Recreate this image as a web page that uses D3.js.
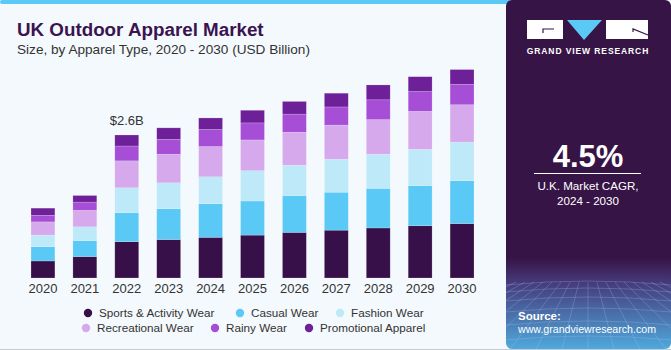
<!DOCTYPE html>
<html>
<head>
<meta charset="utf-8">
<script src="https://cdn.jsdelivr.net/npm/d3@7/dist/d3.min.js"></script>
<style>
  html, body { margin: 0; padding: 0; background: #f4f9fd; }
  svg { display: block; font-family: "Liberation Sans", Arial, sans-serif; }
</style>
</head>
<body>
<svg id="chart" width="671" height="350"></svg>
<script>
// data (USD billion)
const years = ["2020", "2021", "2022", "2023", "2024", "2025", "2026", "2027", "2028", "2029", "2030"];
const seriesNames = ["Sports & Activity Wear", "Casual Wear", "Fashion Wear", "Recreational Wear", "Rainy Wear", "Promotional Apparel"];
const sports       = [0.31, 0.39, 0.66, 0.70, 0.74, 0.78, 0.83, 0.87, 0.91, 0.95, 0.99];
const casual       = [0.26, 0.29, 0.53, 0.56, 0.61, 0.62, 0.67, 0.69, 0.72, 0.73, 0.78];
const fashion      = [0.21, 0.25, 0.45, 0.47, 0.49, 0.55, 0.55, 0.60, 0.62, 0.66, 0.70];
const recreational = [0.24, 0.30, 0.49, 0.52, 0.55, 0.56, 0.60, 0.62, 0.63, 0.69, 0.68];
const rainy        = [0.12, 0.15, 0.27, 0.27, 0.31, 0.31, 0.33, 0.33, 0.36, 0.36, 0.37];
const promotional  = [0.13, 0.12, 0.20, 0.21, 0.21, 0.23, 0.23, 0.25, 0.27, 0.27, 0.27];
const colors = ["#37104a", "#5bc9f6", "#bde9f9", "#d6a9ec", "#a64fd6", "#6d2097"];
const callout = { year: "2022", label: "$2.6B" };

const allSeries = [sports, casual, fashion, recreational, rainy, promotional];
const table = years.map((y, i) => {
  const row = { year: y };
  seriesNames.forEach((s, j) => row[s] = allSeries[j][i]);
  return row;
});
const stacked = d3.stack().keys(seriesNames)(table);

const svg = d3.select("#chart");

// top strip + bottom line
svg.append("rect").attr("x", 0).attr("y", 0).attr("width", 520).attr("height", 4)
  .attr("rx", 2).attr("fill", "#5bc9f6");
svg.append("line").attr("x1", 0).attr("x2", 671).attr("y1", 349.5).attr("y2", 349.5)
  .attr("stroke", "#c8cbd0");

// title
svg.append("text").attr("x", 17).attr("y", 36)
  .attr("font-size", 18.8).attr("font-weight", "bold").attr("fill", "#3a1450")
  .text("UK Outdoor Apparel Market");
svg.append("text").attr("x", 17).attr("y", 54)
  .attr("font-size", 13.6).attr("fill", "#333")
  .text("Size, by Apparel Type, 2020 - 2030 (USD Billion)");

// scales
const x = d3.scaleBand().domain(years).range([22, 483]).paddingInner(0.43).paddingOuter(0.215);
const y = d3.scaleLinear().domain([0, 4]).range([278, 58]);

const g = svg.append("g");
g.selectAll("g.layer").data(stacked).join("g")
  .attr("class", "layer")
  .attr("fill", (d, i) => colors[i])
  .selectAll("rect").data(d => d).join("rect")
  .attr("x", d => x(d.data.year))
  .attr("y", d => y(d[1]))
  .attr("width", x.bandwidth())
  .attr("height", d => y(d[0]) - y(d[1]))
  .attr("stroke", "#ffffff").attr("stroke-opacity", 0.3).attr("stroke-width", 0.6);

// x axis
const xAxis = svg.append("g").attr("transform", "translate(0,278)")
  .call(d3.axisBottom(x).tickSize(0).tickPadding(6));
xAxis.select(".domain").remove();
xAxis.selectAll("text").attr("font-size", 13).attr("fill", "#333")
  .attr("font-family", "'Liberation Sans', Arial, sans-serif");

// callout
const ci = years.indexOf(callout.year);
const total = d3.sum(allSeries, s => s[ci]);
svg.append("text").attr("x", x(callout.year) + x.bandwidth() / 2).attr("y", y(total) - 10)
  .attr("text-anchor", "middle").attr("font-size", 13).attr("fill", "#333")
  .text(callout.label);

// legend
const legendPos = [[88, 313], [240, 313], [340, 313], [86, 328], [215, 328], [309, 328]];
const lg = svg.append("g").selectAll("g").data(seriesNames).join("g")
  .attr("transform", (d, i) => `translate(${legendPos[i][0]},${legendPos[i][1]})`);
lg.append("circle").attr("r", 4.2).attr("fill", (d, i) => colors[i]);
lg.append("text").attr("x", 11).attr("dy", "0.35em").attr("font-size", 11.7).attr("fill", "#333")
  .text(d => d);

// right panel
const defs = svg.append("defs");
const grad = defs.append("linearGradient").attr("id", "pg").attr("x1", 0).attr("x2", 0).attr("y1", 0).attr("y2", 1);
grad.append("stop").attr("offset", "0%").attr("stop-color", "#371446");
grad.append("stop").attr("offset", "74%").attr("stop-color", "#371446");
grad.append("stop").attr("offset", "81%").attr("stop-color", "#463a7c");
grad.append("stop").attr("offset", "100%").attr("stop-color", "#4fa9dc");
const clip = defs.append("clipPath").attr("id", "pc");
clip.append("rect").attr("x", 506).attr("y", 0).attr("width", 165).attr("height", 349).attr("rx", 6);

const panel = svg.append("g").attr("clip-path", "url(#pc)");
panel.append("rect").attr("x", 506).attr("y", 0).attr("width", 165).attr("height", 349)
  .attr("fill", "url(#pg)");
// faint grid texture at the bottom
const grid = panel.append("g").attr("stroke", "#a9d2f0").attr("stroke-opacity", 0.25).attr("fill", "none");
d3.range(0, 9).forEach(i => {
  const yy = 285 + i * i * 1.0 + i * 6;
  grid.append("path").attr("d", `M506,${yy} Q588,${yy - 8} 671,${yy}`);
});
d3.range(-8, 9).forEach(i => {
  grid.append("line").attr("x1", 588 + i * 9).attr("y1", 282).attr("x2", 588 + i * 26).attr("y2", 349);
});

// logo
const logo = panel.append("g");
logo.append("rect").attr("x", 527).attr("y", 20).attr("width", 36).attr("height", 19).attr("fill", "#fff");
logo.append("path").attr("d", "M543,33 L543,29 L554,29").attr("stroke", "#371446").attr("stroke-width", 1.2).attr("fill", "none");
logo.append("path").attr("d", "M567,20 L602,20 L584,40 Z").attr("fill", "#5bc9f6");
logo.append("rect").attr("x", 606).attr("y", 20).attr("width", 42).attr("height", 19).attr("fill", "#fff");
logo.append("path").attr("d", "M633,32 L633,29 L648,35").attr("stroke", "#371446").attr("stroke-width", 1.2).attr("fill", "none");
panel.append("text").attr("x", 588).attr("y", 54).attr("text-anchor", "middle")
  .attr("font-size", 8.5).attr("font-weight", "bold").attr("fill", "#fff").attr("letter-spacing", 0.9)
  .text("GRAND VIEW RESEARCH");

panel.append("text").attr("x", 588).attr("y", 167).attr("text-anchor", "middle")
  .attr("font-size", 31).attr("font-weight", "bold").attr("fill", "#fff").text("4.5%");
panel.append("line").attr("x1", 534).attr("x2", 641).attr("y1", 173.5).attr("y2", 173.5)
  .attr("stroke", "#fff").attr("stroke-width", 1);
panel.append("text").attr("x", 588).attr("y", 190).attr("text-anchor", "middle")
  .attr("font-size", 11.6).attr("fill", "#fff").text("U.K. Market CAGR,");
panel.append("text").attr("x", 588).attr("y", 205).attr("text-anchor", "middle")
  .attr("font-size", 11.6).attr("fill", "#fff").text("2024 - 2030");

panel.append("text").attr("x", 518).attr("y", 320)
  .attr("font-size", 11.5).attr("font-weight", "bold").attr("fill", "#fff").text("Source:");
panel.append("text").attr("x", 518).attr("y", 333)
  .attr("font-size", 11.5).attr("fill", "#fff")
  .attr("textLength", 138).attr("lengthAdjust", "spacingAndGlyphs")
  .text("www.grandviewresearch.com");
</script>
</body>
</html>
